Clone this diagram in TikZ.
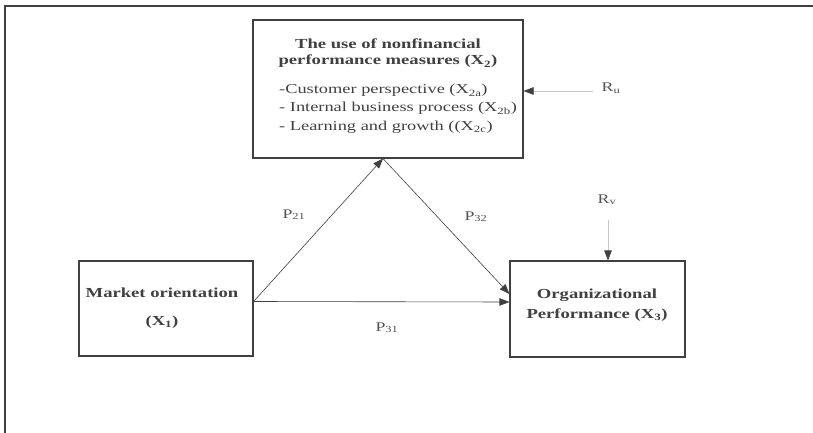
\documentclass[tikz,border=0pt]{standalone}
\usepackage{fontspec}
\setmainfont[FakeStretch=1.35]{Liberation Serif}
\usetikzlibrary{arrows.meta}
\definecolor{ink}{HTML}{404040}
\definecolor{lightln}{HTML}{C8C8C8}
\tikzset{
  box/.style={draw=ink, line width=1.1pt, minimum width=#1, inner sep=0pt},
  lbl/.style={text=ink, font=\fontsize{13.6}{15}\selectfont, inner sep=0pt, anchor=base},
  plbl/.style={text=ink!90, font=\fontsize{13.2}{15}\selectfont, inner sep=0pt, anchor=base},
  bold/.style={text=ink, font=\fontsize{13.8}{16}\selectfont\bfseries, inner sep=0pt, anchor=base},
  arr/.style={draw=ink, line width=0.6pt, -{Triangle[length=10pt,width=7.5pt]}},
  farr/.style={draw=lightln, line width=0.6pt, -{Triangle[length=10pt,width=7.5pt,color=ink]}},
}
\begin{document}
\begin{tikzpicture}[x=1pt,y=-1pt]
\useasboundingbox (0,0) rectangle (813,433);
\fill[white] (0,0) rectangle (813,433);
% outer frame
\coordinate (fr1) at (813,6);
\coordinate (fr2) at (5,6);
\coordinate (fr3) at (5,433);
\draw[ink, line width=1.2pt] (fr1) -- (fr2) -- (fr3);
% boxes
\node[box=270pt, minimum height=138pt] (top) at (388,89) {};
\node[box=174pt, minimum height=95pt] (left) at (166,308.5) {};
\node[box=175pt, minimum height=96pt] (right) at (597.5,309) {};
% top box text
\node[bold] (t1) at (388,48.5) {The use of nonfinancial};
\node[bold] (t2) at (388,65) {performance measures (X\textsubscript{2})};
\node[lbl, anchor=base west] (t3) at (279,94) {-Customer perspective (X\textsubscript{2a})};
\node[lbl, anchor=base west] (t4) at (279,112) {- Internal business process (X\textsubscript{2b})};
\node[lbl, anchor=base west] (t5) at (279,130) {- Learning and growth ((X\textsubscript{2c})};
% left box text
\node[bold] (l1) at (162,297) {Market orientation};
\node[bold] (l2) at (162,325) {(X\textsubscript{1})};
% right box text
\node[bold] (r1) at (597,298) {Organizational};
\node[bold] (r2) at (597,318) {Performance (X\textsubscript{3})};
% path labels
\node[plbl] (p21) at (294,218) {P\textsubscript{21}};
\node[plbl] (p32) at (476,220) {P\textsubscript{32}};
\node[plbl] (p31) at (387,331) {P\textsubscript{31}};
\node[plbl] (ru) at (611,92) {R\textsubscript{u}};
\node[plbl] (rv) at (607,203) {R\textsubscript{v}};
% connectors
\coordinate (apex) at ([xshift=-5pt]top.south);
\draw[arr] ([yshift=7pt]left.east) -- (apex);
\draw[arr] (apex) -- ([yshift=15pt]right.west);
\draw[arr] ([yshift=7pt]left.east) -- ([yshift=7pt]right.west);
\coordinate (ruend) at ([yshift=-2pt]top.east);
\draw[farr] ([xshift=-8pt]ru.west |- ruend) -- (ruend);
\coordinate (rvtop) at (608,220);
\draw[farr] (rvtop) -- (rvtop |- right.north);
\end{tikzpicture}
\end{document}
